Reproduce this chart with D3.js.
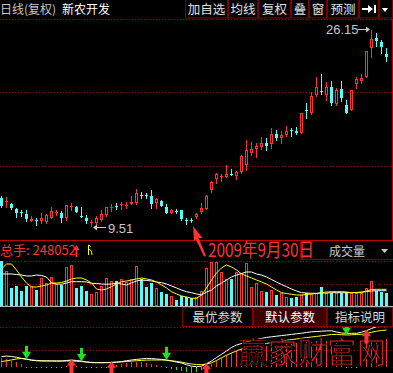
<!DOCTYPE html>
<html><head><meta charset="utf-8">
<script src="https://cdn.jsdelivr.net/npm/d3@7/dist/d3.min.js"></script>
<style>
html,body{margin:0;padding:0;background:#000;overflow:hidden}
svg{display:block}
text{font-family:"Liberation Sans","Noto Sans CJK SC",sans-serif}
.cjk{font-family:"Noto Sans CJK SC",sans-serif}
</style></head><body>
<svg id="c" width="393" height="373"></svg>
<script>
// ---------- data ----------
const periodLabel = "日线(复权)";
const stockName = "新农开发";
const topButtons = ["加自选","均线","复权","叠","窗","预测"];
const indButtons = ["最优参数","默认参数","指标说明"];
const volLabel = "成交量";
const markDate = "2009年9月30日";
const markIndex = 38;
const totalVolume = 248052;
const watermark = "赢家财富网";

const opens  = [11.89,11.55,11.38,10.95,10.66,10.53,9.93,10.06,9.93,9.85,10.19,10.66,10.61,10.19,11.17,11.12,10.40,10.19,9.81,9.76,10.02,10.44,11.08,11.25,11.34,11.25,11.38,11.46,12.14,12.10,12.06,11.46,11.63,11.12,10.61,10.78,10.87,9.98,10.06,10.27,10.70,10.95,12.57,13.50,13.71,13.67,13.93,13.76,14.10,14.69,15.71,16.05,16.22,16.56,16.47,17.32,16.98,17.24,17.70,17.58,17.41,19.36,19.10,20.63,20.97,20.63,21.31,19.87,21.14,19.78,19.36,21.57,21.82,22.16,24.62,25.47,25.13,24.11];
const highs  = [12.06,11.97,11.46,11.04,10.87,10.87,10.36,10.19,10.61,10.53,11.12,10.87,10.78,11.29,11.46,11.21,11.12,10.44,10.02,10.36,10.87,11.12,11.38,11.46,11.55,11.55,12.06,12.65,12.40,12.31,12.57,11.89,11.72,11.38,10.95,10.95,10.90,10.19,10.19,10.61,11.46,12.14,13.33,14.01,13.93,14.69,14.35,14.18,15.54,16.81,16.64,16.56,17.07,16.98,17.83,17.66,17.58,18.00,17.79,17.92,19.10,19.95,20.89,22.16,22.42,21.74,21.82,21.23,21.82,20.21,21.06,22.16,22.42,24.37,26.15,25.90,25.30,24.62];
const lows   = [11.12,11.12,10.95,10.27,10.36,9.93,9.93,9.59,9.76,9.76,10.19,10.44,9.85,10.02,10.87,10.70,10.27,9.76,9.51,9.68,9.93,10.36,10.78,10.95,10.95,11.04,11.38,11.38,11.89,11.89,11.04,11.04,11.21,10.61,10.61,10.61,10.02,9.68,9.85,10.19,10.61,10.95,12.40,13.16,13.33,13.67,13.84,13.50,14.01,14.26,15.54,15.37,16.05,15.96,16.13,16.81,16.56,17.15,17.15,17.32,17.41,18.68,19.02,20.55,20.72,20.21,19.78,19.78,20.12,19.10,19.36,21.23,21.65,22.16,23.86,24.79,24.20,23.52];
const closes = [11.21,11.63,11.04,10.61,10.61,10.10,10.10,10.02,10.19,10.44,10.78,10.70,10.19,11.29,11.21,10.70,10.36,9.93,9.85,10.19,10.53,11.12,11.12,11.21,11.38,11.29,11.55,12.31,12.10,12.06,11.38,11.80,11.21,10.61,10.87,10.74,10.10,9.93,10.02,10.53,11.04,12.06,13.25,13.93,13.76,13.93,13.88,14.10,15.45,15.96,16.05,16.30,16.56,16.30,17.32,16.98,17.24,17.58,17.58,17.41,19.10,19.32,20.55,21.31,20.93,21.31,19.95,21.06,20.38,19.10,21.06,21.99,22.08,24.37,25.39,25.22,24.71,23.86];
const volumes = [845000,653000,336000,379000,280000,379000,373000,298000,528000,429000,541000,410000,392000,733000,765000,336000,379000,280000,224000,267000,379000,528000,466000,466000,504000,454000,504000,746000,504000,361000,435000,336000,267000,224000,187000,112000,187000,162000,143000,162000,280000,715000,827000,827000,640000,497000,497000,640000,609000,796000,348000,423000,286000,267000,298000,205000,249000,162000,143000,162000,205000,249000,224000,249000,348000,249000,249000,236000,249000,267000,236000,249000,236000,330000,466000,286000,267000,248052];
const volMA5  = [690000,783000,783000,671000,541000,429000,354000,354000,373000,392000,429000,429000,438000,466000,504000,522000,522000,485000,429000,317000,298000,317000,360000,410000,453000,466000,485000,504000,522000,504000,485000,448000,392000,336000,267000,224000,187000,168000,144000,144000,205000,336000,485000,615000,709000,765000,727000,671000,597000,560000,522000,485000,448000,410000,354000,298000,248000,233000,218000,205000,205000,214000,224000,233000,248000,261000,267000,267000,267000,261000,248000,248000,248000,280000,308000,311000,311000,311000];
const volMA10 = [597000,597000,597000,587000,578000,560000,560000,578000,569000,541000,429000,410000,405000,429000,453000,453000,453000,448000,423000,420000,410000,405000,410000,423000,410000,392000,429000,466000,485000,476000,466000,448000,435000,410000,373000,336000,298000,267000,248000,224000,205000,261000,298000,373000,429000,485000,541000,578000,606000,634000,634000,597000,578000,541000,494000,448000,401000,360000,317000,280000,248000,242000,237000,237000,242000,242000,248000,248000,248000,248000,248000,252000,261000,270000,280000,285000,285000,285000];
const indWhite  = [10.3,11,10.5,9.7,8.6,7.9,6.8,6.2,6,6,6,6,6,6.5,7,6.5,6,5,4.3,4.3,4.3,4.3,4.4,4.9,5.4,6.3,7,7.6,8.1,8.6,8.4,8,7.6,6.8,6,5,4,2.3,0.8,0.3,0.8,3.3,6,9.5,12.7,16,19.5,22,23.5,25.2,26.3,27.5,28.6,29.6,30.2,30.8,31.4,32,32.6,33.2,33.8,34.5,35.2,35.5,35.8,36.1,36.2,35,34,33.7,33.7,33.7,34.8,36.3,38.5,40.3,40.5,40.3];
const indYellow = [5.5,6.2,7.1,8,8.6,7.8,7,6.6,6.3,6.2,6.1,6,6,6,6,5.7,5.4,5,4.7,4.4,4.3,4.5,4.7,4.9,5.1,5.5,5.9,6.3,6.6,6.9,7,7,7,7,6.3,5.6,4.9,3.8,3,2.5,2.4,3,4.2,6.5,9.2,11.7,14,16,18,19.2,20.2,21.3,22.3,23.6,24.4,25.2,26,26.7,27.4,28,28.7,29.4,30,30.6,31.2,31.8,32.5,32.6,32.3,32,32.2,32.5,32.7,33.5,34.7,35.8,36.5,37];
const indHist   = [9,8,6,5,3,-1,-1,-0.5,-0.5,-0.5,-0.5,-0.5,-0.5,1.5,2,1,-0.5,-1,-1,-1,-0.5,-0.5,0.5,2,3,4,5,5,5,4,3,2,1,-1,-2,-3,-4,-5,-6,-5,-3,1,3,6,9,12,14,16,18,19,20,20,20,21,21,22,22,23,23,24,24,25,25,26,26,26,26,24,22,-1,-1,-0.5,20,24,26,28,28,28];
const buySignals  = [14,22,41,73];
const sellSignals = [5,16,33,69];

// ---------- drawing ----------
const RED="#ff3232", CYAN="#54fcfc", GRID="#a80000", BOX="#800000", GRAY="#c8c8c8", GREEN="#1ee01e";
const svg = d3.select("#c");
svg.append("rect").attr("width",393).attr("height",373).attr("fill","#000");

const n = closes.length;
const x  = d3.scaleLinear().domain([0, n-1]).range([1, 386]);
const yP = d3.scaleLinear().domain([9.51, 26.15]).range([226, 30]);
const yV = d3.scaleLinear().domain([0, 839000]).range([306, 261]);
const yI = d3.scaleLinear().domain([0, 40]).range([367, 327]);

// grid
[19.5, 92.5, 166.5, 261.5, 284.5, 327.5, 350.5].forEach(gy=>{
  svg.append("line").attr("x1",0).attr("x2",392).attr("y1",gy).attr("y2",gy)
    .attr("stroke",GRID).attr("stroke-dasharray","1,2");
});
svg.append("line").attr("x1",0).attr("x2",393).attr("y1",240.5).attr("y2",240.5).attr("stroke","#c00000");
svg.append("line").attr("x1",392.5).attr("x2",392.5).attr("y1",19).attr("y2",240).attr("stroke","#c00000");
svg.append("rect").attr("x",0).attr("y",306).attr("width",393).attr("height",1).attr("fill","#b4b4b4");

// candles
const cg = svg.append("g").attr("shape-rendering","crispEdges");
function bar(g, i, top, bottom, up, col){
  const cx = Math.round(x(i));
  if (up && bottom - top >= 2) {
    g.append("rect").attr("x",cx-0.5).attr("y",top+0.5).attr("width",2).attr("height",bottom-top-1)
      .attr("fill","#000").attr("stroke",col);
  } else {
    g.append("rect").attr("x",cx-1).attr("y",top).attr("width",3).attr("height",Math.max(1,bottom-top)).attr("fill",col);
  }
}
d3.range(n).forEach(i=>{
  const up = closes[i] >= opens[i];
  const col = up ? RED : CYAN;
  const cx = Math.round(x(i));
  const yh = Math.round(yP(highs[i])), yl = Math.round(yP(lows[i]));
  const yt = Math.round(yP(Math.max(opens[i],closes[i]))), yb = Math.round(yP(Math.min(opens[i],closes[i])));
  cg.append("rect").attr("x",cx).attr("y",yh).attr("width",1).attr("height",yl-yh+1).attr("fill",col);
  bar(cg, i, yt, yb, up, col);
});

// max/min labels
const iMax = d3.maxIndex(highs), iMin = d3.minIndex(lows);
{
  const ax = Math.round(x(iMax)) - 1, ay = Math.round(yP(highs[iMax])) - 0.5;
  svg.append("text").attr("x",ax-44).attr("y",ay+4.5).attr("font-size",13).attr("fill",GRAY).text(highs[iMax].toFixed(2));
  svg.append("line").attr("x1",ax-12).attr("x2",ax-2).attr("y1",ay).attr("y2",ay).attr("stroke",GRAY);
  svg.append("path").attr("d",`M${ax},${ay} l-4,-3 v6 z`).attr("fill",GRAY);
  const bx = Math.round(x(iMin)) + 2, by = Math.round(yP(lows[iMin])) + 1.5;
  svg.append("path").attr("d",`M${bx},${by} l4,-3 v6 z`).attr("fill",GRAY);
  svg.append("line").attr("x1",bx+2).attr("x2",bx+13).attr("y1",by).attr("y2",by).attr("stroke",GRAY);
  svg.append("text").attr("x",bx+15).attr("y",by+5).attr("font-size",13).attr("fill",GRAY).text(lows[iMin].toFixed(2));
}

// volume bars
const vg = svg.append("g").attr("shape-rendering","crispEdges");
d3.range(n).forEach(i=>{
  const up = closes[i] >= opens[i];
  bar(vg, i, Math.round(yV(volumes[i])), 306, up, up?RED:CYAN);
});
const vline = d3.line().x((d,i)=>x(i)+0.5).y(d=>yV(d));
svg.append("path").attr("d",vline(volMA10)).attr("fill","none").attr("stroke","#fff");
svg.append("path").attr("d",vline(volMA5)).attr("fill","none").attr("stroke","#ffff00");

// indicator panel
const ig = svg.append("g").attr("shape-rendering","crispEdges");
indHist.forEach((v,i)=>{
  const cx = Math.round(x(i));
  const a = Math.round(yI(0)), b = Math.round(yI(v));
  ig.append("rect").attr("x",cx).attr("y",Math.min(a,b)).attr("width",1).attr("height",Math.max(1,Math.abs(a-b)))
    .attr("fill", v>=0 ? RED : GREEN);
});
const iline = d3.line().x((d,i)=>x(i)+0.5).y(d=>yI(d));
svg.append("path").attr("d",iline(indYellow)).attr("fill","none").attr("stroke","#ffff00");
svg.append("path").attr("d",iline(indWhite)).attr("fill","none").attr("stroke","#fff");

// watermark (thin red strokes, drawn under the signal arrows)
svg.append("text").attr("class","cjk").attr("transform","translate(238,363) scale(1,1.2)")
  .attr("font-size",25).attr("fill","#ff2a2a").attr("stroke","#000").attr("stroke-width",0.9)
  .attr("paint-order","fill")
  .attr("textLength",148).attr("lengthAdjust","spacingAndGlyphs").text(watermark);

sellSignals.forEach(i=>{
  const tx = Math.round(x(i))+0.5, ty = yI(Math.min(indWhite[i],indYellow[i]));
  svg.append("path").attr("d",`M${tx},${ty} L${tx-4.5},${ty-7.5} L${tx-1.5},${ty-7.5} L${tx-1.5},${ty-13.5} L${tx+1.5},${ty-13.5} L${tx+1.5},${ty-7.5} L${tx+4.5},${ty-7.5} Z`).attr("fill",GREEN);
});
buySignals.forEach(i=>{
  const tx = Math.round(x(i))+0.5, ty = yI(Math.max(indWhite[i],indYellow[i]))-1;
  svg.append("path").attr("d",`M${tx},${ty} L${tx-4.5},${ty+6.5} L${tx-2},${ty+6.5} L${tx-2},${ty+14} L${tx+2},${ty+14} L${tx+2},${ty+6.5} L${tx+4.5},${ty+6.5} Z`).attr("fill",RED);
});

// top bar
svg.append("text").attr("class","cjk").attr("x",0).attr("y",14).attr("font-size",12).attr("fill",GRAY).text(periodLabel);
svg.append("text").attr("class","cjk").attr("x",62).attr("y",14).attr("font-size",12).attr("fill","#fff").text(stockName);
const btnEdges = [185,228,258,291,309,327,359,379,393];
btnEdges.slice(0,-1).forEach((bx,k)=>{
  const w = btnEdges[k+1]-bx-1;
  svg.append("rect").attr("x",bx+0.5).attr("y",-1).attr("width",w).attr("height",19).attr("fill","none").attr("stroke",BOX);
  if (k < topButtons.length)
    svg.append("text").attr("class","cjk").attr("x",bx+0.5+w/2).attr("y",14).attr("text-anchor","middle")
      .attr("font-size",12.5).attr("fill","#e0e0e0").text(topButtons[k]);
});
svg.append("path").attr("d","M362,8 h6 v-3 l5,4 l-5,4 v-3 h-6 z M374,5 h2 v8 h-2 z").attr("fill","#fff");
svg.append("path").attr("d","M382,8 h6 l-3,4 z").attr("fill","#fff");

// volume header
svg.append("text").attr("class","cjk").attr("x",0).attr("y",255).attr("font-size",13).attr("fill",RED).text("总手: " + totalVolume);
svg.append("path").attr("d","M76.5,245 l3,5 h-2 v7 h-2 v-7 h-2 z").attr("fill",RED);
svg.append("path").attr("d","M88.5,245 v10 M88.5,250 q3,-2 3.5,5 M88.5,245 l2,1.5").attr("fill","none").attr("stroke","#ffff00");
svg.append("path").attr("d","M300.5,240 V259.5 H393").attr("fill","none").attr("stroke",BOX);
svg.append("text").attr("class","cjk").attr("x",329).attr("y",256).attr("font-size",12).attr("fill",GRAY).text(volLabel);
svg.append("path").attr("d","M381,249 h7 l-3.5,4 z").attr("fill",GRAY);

// date annotation
{
  const tx = Math.round(x(markIndex))+2, ty = Math.round(yP(lows[markIndex]))+4;
  svg.append("path").attr("d",`M${tx},${ty} L${tx+9.5},${ty+12} L${tx+5.5},${ty+12} L${tx+13},${ty+30} L${tx+11},${ty+30.5} L${tx+3},${ty+13.5} L${tx+1},${ty+15} Z`).attr("fill",RED);
  const dt = svg.append("text").attr("class","cjk").attr("x",0).attr("y",0).attr("font-size",19).attr("fill",RED).text(markDate);
  const len = dt.node().getComputedTextLength() || 130;
  dt.attr("transform",`translate(208,257) scale(${(106/len).toFixed(3)},1)`);
}

// indicator buttons
const ibEdges = [182,253,327,393];
indButtons.forEach((t,k)=>{
  const bx = ibEdges[k], w = ibEdges[k+1]-bx-1;
  svg.append("rect").attr("x",bx+0.5).attr("y",307.5).attr("width",w).attr("height",19)
    .attr("fill", k===1 ? "#3c0000" : "#000").attr("stroke",BOX);
  svg.append("text").attr("class","cjk").attr("x",bx+w/2+0.5).attr("y",321.5).attr("text-anchor","middle")
    .attr("font-size",12.5).attr("fill", k===1 ? "#ffffff" : "#d8d8d8").text(t);
});
</script></body></html>
